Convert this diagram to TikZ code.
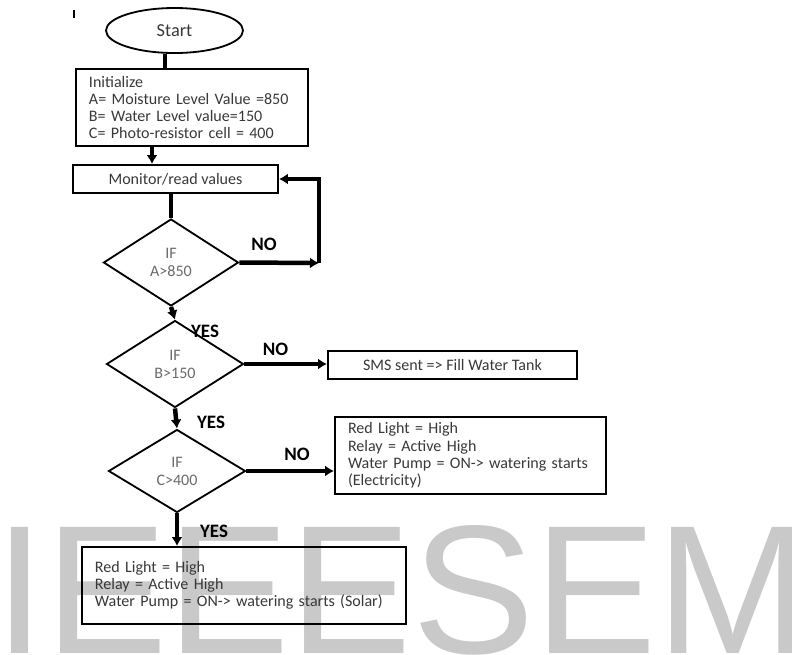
\documentclass[tikz,border=0pt]{standalone}
\usepackage{fontspec}
\setmainfont{Carlito}
\newfontfamily\wmfont{Liberation Sans}
\usepackage{tikz}
\usetikzlibrary{shapes,arrows,arrows.meta,positioning}

\newlength{\pxl}
\setlength{\pxl}{0.025cm}
\definecolor{txtgray}{HTML}{383838}
\definecolor{ifgray}{HTML}{6A6A6A}
\definecolor{wmgray}{HTML}{C9C9C9}

\tikzset{
	box/.style={draw, line width=1.3pt, inner sep=0pt, text=txtgray, font=\fontsize{11.4}{12.3}\selectfont},
	cbox/.style 2 args={box, minimum width=#1\pxl, minimum height=#2\pxl},
	lbox/.style 2 args={box, align=left, text width=#1\pxl, minimum height=#2\pxl, inner xsep=13\pxl},
	cond/.style 2 args={draw, diamond, line width=1.3pt, inner sep=0pt, minimum width=#1\pxl, minimum height=#2\pxl, align=center, text=ifgray, font=\fontsize{11.4}{12.8}\selectfont},
	lab/.style={inner sep=0pt, font=\bfseries\fontsize{13.5}{14}\selectfont},
	flow/.style={line width=3.2pt},
	flowto/.style={flow, -{Latex[length=0.225cm,width=0.275cm]}},
	wmark/.style={anchor=base west, inner sep=0pt, text=wmgray, font=\wmfont\fontsize{130.4}{130}\selectfont}
}

\begin{document}
\begin{tikzpicture}[x=0.025cm, y=-0.025cm]
	\useasboundingbox (0,0) rectangle (792,654);

	% watermark
	\node[wmark] (wm) at (-6,653) {IEEESEM};
	\draw[line width=1.6pt] (74,10) -- (74,18);

	\node[draw, ellipse, line width=1.3pt, minimum width=137\pxl, minimum height=45\pxl, inner sep=0pt, text=txtgray, font=\fontsize{13}{14}\selectfont] (1) at (174.5,30.5) {Start};
	\node[lbox={206}{77}] (2) at (192,107.5) {Initialize\\A= Moisture Level Value =850\\B= Water Level value=150\\C= Photo-resistor cell = 400};
	\node[cbox={205}{28}] (3) at (175.5,179) {Monitor/read values};
	\node[cond={135}{87}] (4) at (171,262.5) {IF\\A>850};
	\node[cond={137}{87}] (5) at (175,364) {IF\\B>150};
	\node[cond={137}{83}] (6) at (177,471) {IF\\C>400};
	\node[cbox={249}{28}] (7) at (452.5,365) {SMS sent => Fill Water Tank};
	\node[lbox={245}{77}] (8) at (470.5,455.5) {Red Light = High\\Relay = Active High\\Water Pump = ON-> watering starts\\(Electricity)};
	\node[lbox={298}{77}] (9) at (244,585.5) {Red Light = High\\Relay = Active High\\Water Pump = ON-> watering starts (Solar)};

	% labels
	\node[lab] (no1) at (264,244) {NO};
	\node[lab] (yes1) at (205,331) {YES};
	\node[lab] (no2) at (275.5,349) {NO};
	\node[lab] (yes2) at (211,422) {YES};
	\node[lab] (no3) at (297,454) {NO};
	\node[lab] (yes3) at (214,531) {YES};

	\coordinate (c1) at (165,0);
	\coordinate (c2) at (152,0);
	\coordinate (c3) at (319,263);

	\draw[flow] (1.south -| c1) -- (2.north -| c1);
	\draw[flowto] (2.south -| c2) -- (3.north -| c2);
	\draw[flow] (4.north |- 3.south) -- (4.north);
	\draw[flowto] (4.east) -- (c3);
	\draw[flowto, line width=2.6pt] (c3) |- (3.east);
	\draw[flowto] (4.south) -- (5.north);
	\draw[flowto] (5.east) -- (5.east -| 7.west);
	\draw[flowto] (5.south) -- (6.north);
	\draw[flowto] (6.east) -- (6.east -| 8.west);
	\draw[flowto] (6.south) -- (6.south |- 9.north);
\end{tikzpicture}
\end{document}
